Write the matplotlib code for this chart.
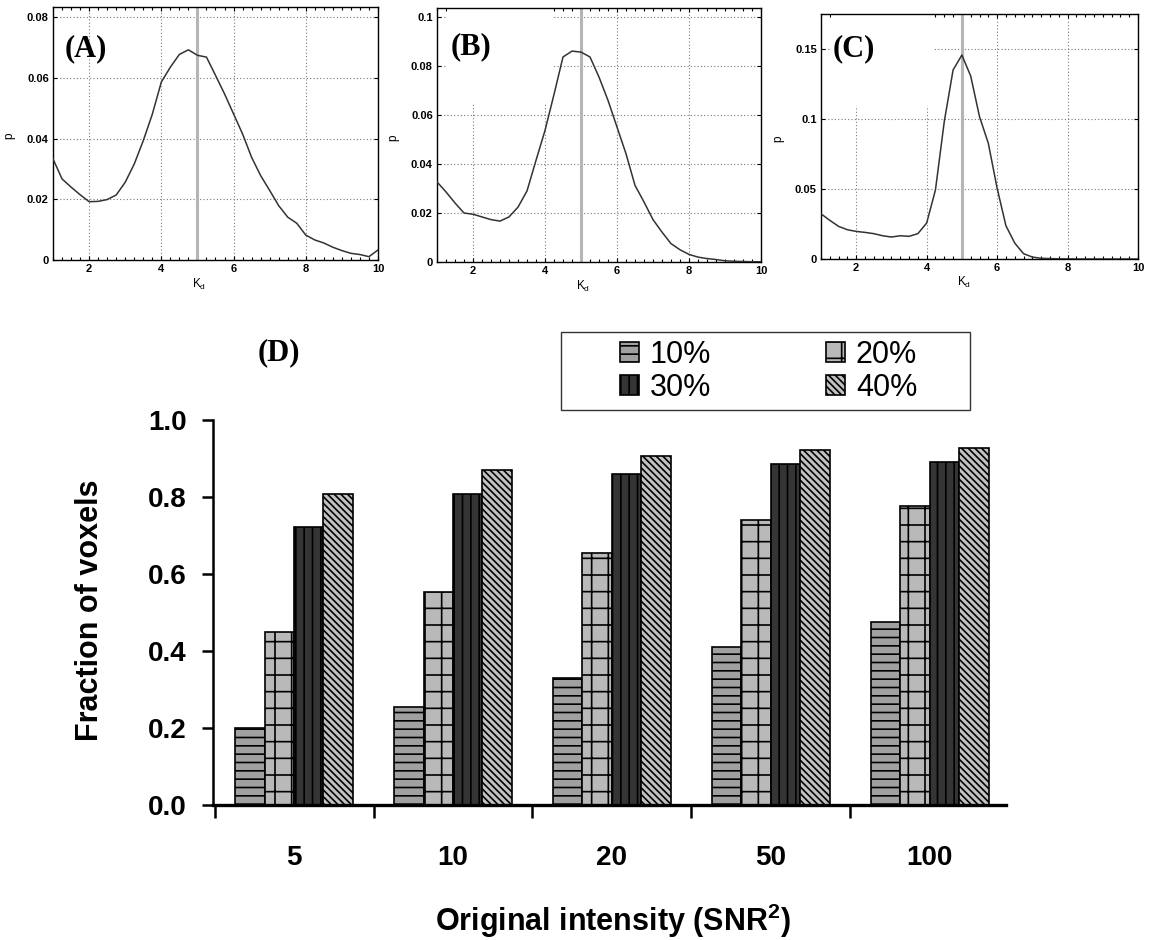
import matplotlib
matplotlib.use("Agg")
import matplotlib.pyplot as plt
from matplotlib.patches import Rectangle
from matplotlib.ticker import FuncFormatter, MultipleLocator

plt.rcParams["font.family"] = ["Liberation Sans", "DejaVu Sans"]
plt.rcParams["mathtext.fontset"] = "custom"
plt.rcParams["mathtext.rm"] = "Liberation Sans"
plt.rcParams["mathtext.bf"] = "Liberation Sans:bold"
plt.rcParams["hatch.linewidth"] = 1.2

# ---- estimated K_d distributions (panels A-C) ----
kd = [1.0, 1.25, 1.5, 1.75, 2.0, 2.25, 2.5, 2.75, 3.0, 3.25, 3.5, 3.75,
      4.0, 4.25, 4.5, 4.75, 5.0, 5.25, 5.5, 5.75, 6.0, 6.25, 6.5, 6.75,
      7.0, 7.25, 7.5, 7.75, 8.0, 8.25, 8.5, 8.75, 9.0, 9.25, 9.5, 9.75, 10.0]
p_a = [0.0333, 0.0267, 0.0240, 0.0215, 0.0192, 0.0193, 0.0199, 0.0214,
       0.0256, 0.0316, 0.0393, 0.0480, 0.0586, 0.0635, 0.0677, 0.0692,
       0.0674, 0.0668, 0.0608, 0.0547, 0.0481, 0.0415, 0.0338, 0.0278,
       0.0229, 0.0179, 0.0141, 0.0121, 0.0082, 0.0066, 0.0056, 0.0042,
       0.0031, 0.0022, 0.0018, 0.0011, 0.0033]
p_b = [0.0327, 0.0286, 0.0241, 0.0200, 0.0195, 0.0184, 0.0173, 0.0167,
       0.0184, 0.0224, 0.0290, 0.0415, 0.0537, 0.0684, 0.0837, 0.0861,
       0.0857, 0.0837, 0.0755, 0.0660, 0.0551, 0.0442, 0.0313, 0.0245,
       0.0173, 0.0122, 0.0075, 0.0050, 0.0031, 0.0020, 0.0014, 0.0010,
       0.0005, 0.0003, 0.0002, 0.0001, 0.0001]
p_c = [0.0323, 0.0276, 0.0233, 0.0209, 0.0197, 0.0190, 0.0181, 0.0166,
       0.0157, 0.0166, 0.0162, 0.0181, 0.0257, 0.0494, 0.0982, 0.1350,
       0.1457, 0.1307, 0.1017, 0.0827, 0.0506, 0.0238, 0.0114, 0.0038,
       0.0014, 0.0005, 0.0003, 0.0001, 0.0001, 0.0, 0.0, 0.0, 0.0, 0.0,
       0.0, 0.0, 0.0]
true_kd = 5.0
kd_ticks = [2, 4, 6, 8, 10]
yticks_a = [0, 0.02, 0.04, 0.06, 0.08]
yticks_b = [0, 0.02, 0.04, 0.06, 0.08, 0.1]
yticks_c = [0, 0.05, 0.1, 0.15]

# ---- fraction of voxels (panel D) ----
intensity_labels = ["5", "10", "20", "50", "100"]
series_labels = ["10%", "20%", "30%", "40%"]
frac_10 = [0.200, 0.255, 0.330, 0.410, 0.475]
frac_20 = [0.450, 0.553, 0.655, 0.740, 0.776]
frac_30 = [0.722, 0.807, 0.859, 0.886, 0.890]
frac_40 = [0.807, 0.869, 0.906, 0.922, 0.927]
frac_yticks = [0.0, 0.2, 0.4, 0.6, 0.8, 1.0]

W, H = 1151, 940
fig = plt.figure(figsize=(W / 100, H / 100), dpi=100)


def fig_rect(left, top, right, bottom):
    return [left / W, 1 - bottom / H, (right - left) / W, (bottom - top) / H]


def hist_panel(rect, p, ymax, yticks, tag, tag_xy, mask=None):
    ax = fig.add_axes(rect)
    ax.set_xlim(1, 10)
    ax.set_ylim(0, ymax)
    ax.grid(True, which="major", linestyle=(0, (1, 2)), color="#7a7a7a", lw=0.8)
    ax.axvline(true_kd, color="#b5b5b5", lw=2.2, zorder=2.5)
    ax.plot(kd, p, color="#333333", lw=1.1, zorder=3)
    ax.set_xticks(kd_ticks)
    ax.set_yticks(yticks)
    ax.yaxis.set_major_formatter(FuncFormatter(lambda v, _: f"{v:g}"))
    ax.xaxis.set_minor_locator(MultipleLocator(0.25))
    ax.tick_params(which="both", direction="in", top=True, right=True,
                   labelsize=8, width=0.8, pad=3)
    ax.tick_params(which="major", length=3)
    ax.tick_params(which="minor", length=2)
    for lbl in ax.get_xticklabels() + ax.get_yticklabels():
        lbl.set_fontweight("bold")
    for s in ax.spines.values():
        s.set_linewidth(1.0)
    ax.set_ylabel("p", fontsize=8.5)
    ax.yaxis.set_label_coords(-0.115, 0.49)
    ax.set_xlabel(r"K$_\mathrm{d}$", fontsize=8.5)
    ax.xaxis.set_label_coords(0.45, -0.065)
    if mask is not None:
        ax.add_patch(Rectangle((mask[0], mask[1]), mask[2] - mask[0], ymax - mask[1],
                               facecolor="white", edgecolor="none", zorder=2.2))
    fig.text(tag_xy[0] / W, 1 - tag_xy[1] / H, tag, family="Liberation Serif",
             weight="bold", size=22, ha="center", va="center")
    return ax


hist_panel(fig_rect(53, 7, 378, 260), p_a, 0.0833, yticks_a, "(A)", (86, 49))
hist_panel(fig_rect(437, 8, 761, 262), p_b, 0.1037, yticks_b, "(B)", (471, 47),
           mask=(1.28, 0.065, 4.2))
hist_panel(fig_rect(821, 14, 1138, 259), p_c, 0.175, yticks_c, "(C)", (854, 49),
           mask=(1.28, 0.109, 4.18))

# ---- panel D: grouped hatched bars ----
axd = fig.add_axes(fig_rect(213, 420, 1006, 805))
groups = list(range(len(intensity_labels)))
bar_w = 0.185
series = [frac_10, frac_20, frac_30, frac_40]
faces = ["#a0a0a0", "#b9b9b9", "#353535", "#c2c2c2"]
hatches = ["--", "+", "||", "\\\\\\\\\\"]
bars = []
for k, (vals, fc, ht, lab) in enumerate(zip(series, faces, hatches, series_labels)):
    offs = [g + (k - 1.5) * bar_w for g in groups]
    b = axd.bar(offs, vals, width=bar_w, color=fc, edgecolor="black",
                hatch=ht, lw=1.2, label=lab, zorder=2)
    bars.append(b)

axd.set_xlim(-0.51, 4.48)
axd.set_ylim(0, 1.0)
axd.spines["top"].set_visible(False)
axd.spines["right"].set_visible(False)
axd.spines["left"].set_linewidth(1.8)
axd.spines["bottom"].set_linewidth(2.4)
axd.spines["bottom"].set_zorder(3)
axd.set_yticks(frac_yticks)
axd.set_yticklabels([f"{v:.1f}" for v in frac_yticks])
axd.set_xticks([g - 0.5 for g in groups])
axd.set_xticklabels([])
axd.set_xticks(groups, minor=True)
axd.set_xticklabels(intensity_labels, minor=True)
axd.tick_params(axis="y", direction="out", length=8, width=1.8, pad=11,
                labelsize=20)
axd.tick_params(axis="x", which="major", direction="out", length=9, width=1.8)
axd.tick_params(axis="x", which="minor", direction="in", length=3, width=1.5,
                pad=29, labelsize=20)
for lbl in axd.get_yticklabels() + axd.get_xticklabels(minor=True):
    lbl.set_fontweight("bold")
axd.set_ylabel("Fraction of voxels", fontsize=22, fontweight="bold")
axd.yaxis.set_label_coords(-0.136, 0.506)
axd.set_xlabel(r"Original intensity (SNR$^{\mathbf{2}}$)", fontsize=22,
               fontweight="bold")
axd.xaxis.set_label_coords(0.504, -0.252)

fig.text(279 / W, 1 - 353 / H, "(D)", family="Liberation Serif", weight="bold",
         size=22, ha="center", va="center")

# legend: two columns, rows ordered 10/20 then 30/40
order = [0, 2, 1, 3]
fig.legend([bars[i] for i in order], [series_labels[i] for i in order],
           ncol=2, frameon=False, fontsize=22, loc="upper left",
           bbox_to_anchor=(620 / W, 1 - 340 / H), borderpad=0, borderaxespad=0,
           handlelength=0.62, handleheight=0.62, handletextpad=0.36,
           columnspacing=3.75, labelspacing=0.1)
fig.add_artist(Rectangle((561 / W, 1 - 410 / H), 409 / W, 78 / H,
                         transform=fig.transFigure, fill=False,
                         edgecolor="#333333", lw=1.0))

fig.savefig("out.png", dpi=100)
